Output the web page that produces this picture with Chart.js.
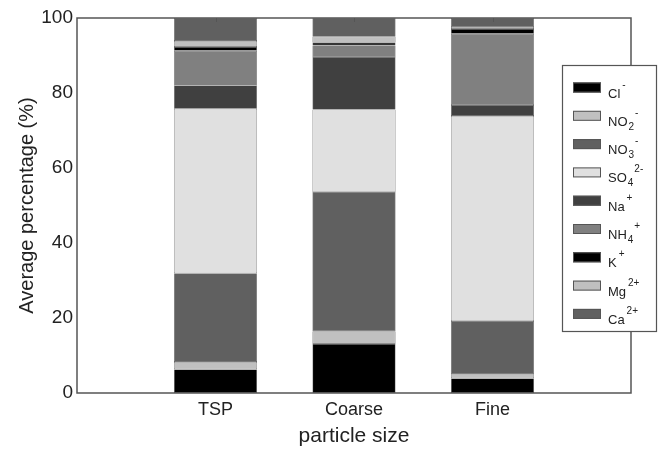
<!DOCTYPE html>
<html>
<head>
<meta charset="utf-8">
<script src="https://cdn.jsdelivr.net/npm/chart.js@4.4.1/dist/chart.umd.min.js"></script>
<style>
  body { margin: 0; background: #fff; }
  canvas { display: block; }
</style>
</head>
<body>
<canvas id="bar_chart" width="661" height="449"></canvas>
<script>
// categories (empty slots at both ends keep the axis running 0..4)
const Sizes = ["", "TSP", "Coarse", "Fine", ""];

// ion names, split so the legend can draw sub/superscripts
const Ion_Base = ["Cl", "NO", "NO", "SO", "Na", "NH", "K", "Mg", "Ca"];
const Ion_Sub  = ["", "2", "3", "4", "", "4", "", "", ""];
const Ion_Sup  = ["-", "-", "-", "2-", "+", "+", "+", "2+", "2+"];

// average percentage of each ion, per size (TSP, Coarse, Fine)
const Cl   = [6.3, 13.1, 3.9];
const NO2  = [2.0, 3.4, 1.1];
const NO3  = [23.6, 37.1, 14.2];
const SO4  = [43.9, 22.0, 54.7];
const Na   = [6.2, 14.0, 2.9];
const NH4  = [9.3, 3.1, 19.0];
const K    = [1.0, 0.7, 1.3];
const Mg   = [1.6, 1.6, 0.5];
const Ca   = [6.1, 5.0, 2.4];

const Y_Ticks = [0, 20, 40, 60, 80, 100];

const series = [Cl, NO2, NO3, SO4, Na, NH4, K, Mg, Ca];
const colours = ["#000000", "#c0c0c0", "#606060", "#e0e0e0", "#404040",
                 "#808080", "#000000", "#c0c0c0", "#606060"];

const datasets = series.map(function (vals, i) {
    return {
        label: Ion_Base[i] + Ion_Sub[i] + Ion_Sup[i],
        data: [null].concat(vals, [null]),
        backgroundColor: colours[i],
        borderColor: "#555",
        borderWidth: 0.6,
        borderSkipped: false,
        barPercentage: 1,
        categoryPercentage: 0.6
    };
});

// box round the plot, small inward ticks on top, and the MATLAB style legend
const boxPlugin = {
    id: "box_legend",
    afterDatasetsDraw(chart) {
        const ctx = chart.ctx;
        const a = chart.chartArea;
        const xs = chart.scales.x;
        ctx.save();
        ctx.strokeStyle = "#555";
        ctx.lineWidth = 1.5;
        ctx.strokeRect(a.left, a.top, a.right - a.left, a.bottom - a.top);
        ctx.lineWidth = 1;
        for (let i = 1; i < Sizes.length - 1; i++) {
            const px = Math.round(xs.getPixelForValue(i)) + 0.5;
            ctx.beginPath();
            ctx.moveTo(px, a.top);
            ctx.lineTo(px, a.top + 4);
            ctx.stroke();
        }

        // legend
        const lx = 562, ly = 65, lw = 94, lh = 266;
        ctx.fillStyle = "#fff";
        ctx.fillRect(lx, ly, lw, lh);
        ctx.strokeStyle = "#555";
        ctx.lineWidth = 1.2;
        ctx.strokeRect(lx + 0.5, ly + 0.5, lw, lh);
        for (let i = 0; i < Ion_Base.length; i++) {
            const cy = 87.5 + i * 28.3;
            ctx.fillStyle = colours[i];
            ctx.fillRect(573, cy - 5, 28, 10);
            ctx.strokeStyle = "#555";
            ctx.lineWidth = 1;
            ctx.strokeRect(573.5, cy - 4.5, 27, 9);

            const base = cy + 10;
            ctx.fillStyle = "#222";
            ctx.textBaseline = "alphabetic";
            ctx.textAlign = "left";
            ctx.font = "13px 'Liberation Sans', Arial, sans-serif";
            let tx = 608;
            ctx.fillText(Ion_Base[i], tx, base);
            tx += ctx.measureText(Ion_Base[i]).width + 1;
            ctx.font = "10px 'Liberation Sans', Arial, sans-serif";
            if (Ion_Sub[i]) {
                ctx.fillText(Ion_Sub[i], tx, base + 4);
                tx += ctx.measureText(Ion_Sub[i]).width;
            }
            ctx.fillText(Ion_Sup[i], tx + 1, base - 10);
        }
        ctx.restore();
    }
};

const config = {
    type: "bar",
    data: {
        labels: Sizes,
        datasets: datasets
    },
    options: {
        responsive: false,
        animation: false,
        layout: {
            padding: { top: 18, right: 30, left: 0, bottom: 0 }
        },
        plugins: {
            legend: { display: false },
            tooltip: { enabled: false }
        },
        scales: {
            x: {
                stacked: true,
                offset: false,
                grid: { display: false, drawTicks: false },
                border: { display: false },
                ticks: {
                    color: "#222",
                    padding: 6,
                    maxRotation: 0,
                    autoSkip: false,
                    font: { family: "'Liberation Sans', Arial, sans-serif", size: 18 }
                },
                title: {
                    display: true,
                    text: "particle size",
                    color: "#222",
                    padding: { top: 0, bottom: 0 },
                    font: { family: "'Liberation Sans', Arial, sans-serif", size: 21 }
                },
                afterFit: function (scale) { scale.height = 56; }
            },
            y: {
                stacked: true,
                min: 0,
                max: 100,
                afterBuildTicks: function (scale) {
                    scale.ticks = Y_Ticks.map(function (v) { return { value: v }; });
                },
                grid: { display: false, drawTicks: false },
                border: { display: false },
                ticks: {
                    color: "#222",
                    padding: 4,
                    font: { family: "'Liberation Sans', Arial, sans-serif", size: 19 }
                },
                title: {
                    display: true,
                    text: "Average percentage (%)",
                    color: "#222",
                    padding: { top: 15, bottom: 0 },
                    font: { family: "'Liberation Sans', Arial, sans-serif", size: 20 }
                },
                afterFit: function (scale) { scale.width = 77; }
            }
        }
    },
    plugins: [boxPlugin]
};

const canvas = document.getElementById("bar_chart");
let my_bar_chart = new Chart(canvas, config);
</script>
</body>
</html>
